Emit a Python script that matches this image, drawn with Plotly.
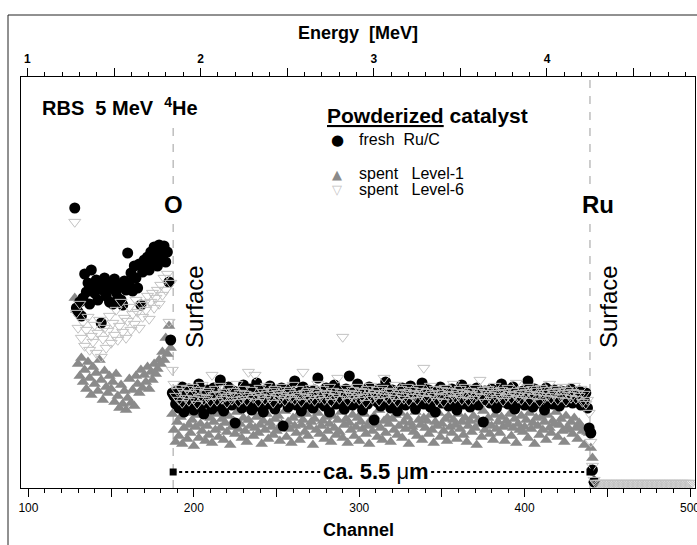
import plotly.graph_objects as go

# ---------------- figure geometry (layout only) ----------------
W, H = 697, 545
ML, MR, MT, MB = 21, 2, 77, 57
PW = W - ML - MR
PH = H - MT - MB


def pxx(x):
    return (x - ML) / PW


def pxy(y):
    return (H - MB - y) / PH


# ---------------- data ----------------
FIRST_CHANNEL = 128          # first channel of every series

# yield (arbitrary units) per channel, fresh Ru/C (channels 128 ... 442)
fresh_ruc = [
    280,
    180, 176, 186, 172, 190, 214, 196, 205, 184, 218, 200,
    195, 208, 188, 204, 165, 198, 210, 192, 206, 186,
    200, 184, 209, 196, 190, 203, 188, 183, 207, 198,
    235, 205, 215, 197, 222, 210, 200, 224, 183, 216,
    228, 220, 231, 218, 236, 225, 241, 232, 222, 243,
    238, 230, 242, 226, 236, 206, 148, 95,
    92, 84, 97, 80, 89, 101, 76, 94, 86, 99,
    83, 91, 78, 96, 88, 104, 81, 93, 74, 90,
    98, 85, 92, 79, 100, 87, 95, 82, 108, 89,
    77, 94, 86, 101, 90, 83, 97, 65, 92, 88,
    96, 80, 103, 89, 84, 93, 99, 78, 91, 86,
    105, 82, 95, 88, 76, 98, 90, 84, 102, 87,
    93, 79, 97, 85, 91, 100, 62, 94, 88, 81,
    99, 86, 92, 107, 83, 95, 89, 77, 101, 90,
    84, 96, 88, 93, 80, 98, 87, 110, 91, 85,
    94, 82, 100, 89, 76, 95, 88, 103, 84, 92,
    97, 86, 91, 79, 99, 87, 112, 93, 83, 96,
    89, 104, 85, 92, 78, 97, 90, 84, 101, 88,
    95, 68, 91, 86, 99, 82, 94, 89, 106, 87,
    93, 80, 98, 88, 92, 77, 96, 85, 100, 90,
    83, 95, 89, 102, 86, 93, 79, 97, 88, 91,
    105, 84, 92, 87, 98, 81, 94, 90, 76, 96,
    88, 101, 85, 93, 89, 97, 82, 91, 99, 86,
    94, 78, 96, 88, 103, 84, 92, 87, 98, 81,
    90, 95, 86, 100, 83, 93, 89, 66, 97, 88,
    92, 85, 99, 87, 94, 80, 96, 90, 104, 86,
    91, 98, 84, 93, 88, 101, 79, 95, 89, 92,
    86, 97, 83, 94, 107, 88, 92, 81, 99, 90,
    85, 96, 89, 93, 78, 100, 87, 94, 91, 84,
    98, 88, 95, 82, 97, 90, 96, 86, 93, 89,
    99, 85, 94, 91, 87, 97, 83, 92, 88, 95,
    80, 60, 55, 18, 6,
]

# spent Level-1 (channels 128 ... 442)
spent_level1 = [
    190,
    178, 124, 112, 130, 106, 118, 99, 126, 110, 93, 121,
    104, 115, 97, 128, 108, 88, 117, 101, 95, 112,
    99, 106, 86, 114, 92, 80, 103, 84, 97, 78,
    90, 109, 85, 98, 82, 112, 104, 95, 118, 100,
    113, 106, 121, 99, 116, 108, 124, 114, 119, 128,
    124, 136, 128, 150, 134, 162, 140, 74,
    58, 46, 66, 52, 71, 44, 60, 75, 49, 63,
    55, 68, 42, 61, 73, 50, 64, 57, 78, 47,
    62, 53, 70, 45, 66, 58, 74, 51, 60, 69,
    48, 65, 56, 72, 43, 61, 67, 54, 76, 59,
    64, 50, 70, 57, 46, 68, 62, 79, 52, 60,
    71, 55, 63, 44, 67, 58, 74, 49, 65, 61,
    53, 69, 57, 72, 47, 64, 60, 77, 51, 66,
    59, 45, 70, 62, 55, 73, 48, 63, 68, 56,
    74, 52, 61, 66, 43, 69, 58, 75, 54, 62,
    67, 49, 71, 57, 64, 46, 72, 60, 53, 68,
    56, 76, 50, 63, 69, 45, 65, 58, 73, 52,
    61, 70, 47, 66, 59, 74, 54, 62, 44, 68,
    57, 72, 63, 51, 78, 60, 48, 67, 55, 70,
    64, 46, 69, 58, 73, 53, 62, 75, 50, 66,
    59, 71, 44, 65, 61, 56, 76, 52, 68, 63,
    48, 70, 60, 67, 54, 73, 58, 45, 66, 62,
    75, 51, 64, 57, 69, 47, 72, 61, 55, 68,
    63, 49, 74, 59, 66, 53, 70, 46, 62, 67,
    56, 72, 60, 43, 68, 64, 51, 77, 58, 65,
    70, 54, 62, 48, 73, 59, 66, 55, 71, 61,
    47, 67, 63, 74, 52, 60, 69, 45, 64, 58,
    72, 56, 61, 68, 50, 75, 59, 65, 44, 70,
    62, 53, 71, 58, 66, 48, 73, 60, 55, 67,
    64, 76, 51, 63, 69, 57, 46, 72, 61, 58,
    66, 54, 70, 60, 49, 65, 62, 57, 43, 59,
    56, 55, 40, 30, 8,
]

# spent Level-6 (channels 128 ... 501)
spent_level6 = [
    266,
    175, 160, 184, 150, 166, 142, 158, 171, 138, 152, 146,
    163, 135, 155, 168, 131, 149, 160, 140, 157, 172,
    145, 165, 153, 178, 148, 162, 186, 156, 170, 150,
    167, 181, 158, 174, 164, 188, 176, 160, 183, 171,
    185, 178, 192, 169, 186, 195, 180, 190, 198, 184,
    203, 193, 210, 198, 214, 166, 205, 118,
    104, 92, 97, 88, 100, 85, 95, 90, 99, 87,
    94, 101, 89, 96, 84, 98, 91, 103, 88, 95,
    90, 97, 86, 113, 93, 99, 87, 94, 102, 89,
    96, 91, 85, 100, 93, 88, 97, 92, 104, 86,
    95, 89, 99, 94, 87, 116, 92, 98, 90, 113,
    93, 86, 100, 91, 96, 88, 102, 94, 90, 97,
    85, 99, 92, 95, 89, 101, 93, 87, 98, 91,
    96, 90, 103, 88, 94, 99, 92, 86, 116, 95,
    91, 97, 89, 100, 93, 87, 96, 104, 90, 94,
    99, 88, 95, 92, 101, 86, 97, 91, 94, 110,
    89, 96, 151, 93, 100, 87, 95, 92, 98, 90,
    94, 101, 88, 97, 91, 96, 85, 99, 93, 102,
    89, 95, 92, 98, 87, 94, 100, 110, 91, 96,
    88, 97, 93, 90, 103, 86, 95, 99, 92, 89,
    96, 101, 87, 94, 98, 91, 95, 88, 100, 93,
    97, 120, 90, 96, 89, 102, 94, 92, 99, 87,
    95, 91, 98, 86, 100, 93, 97, 89, 94, 104,
    90, 96, 92, 99, 88, 95, 101, 93, 87, 97,
    94, 89, 100, 92, 96, 108, 91, 98, 86, 95,
    99, 93, 88, 97, 102, 90, 95, 92, 98, 87,
    96, 91, 100, 94, 89, 97, 93, 105, 90, 95,
    88, 98, 92, 96, 101, 87, 94, 99, 91, 97,
    93, 86, 100, 95, 90, 98, 92, 104, 89, 96,
    94, 99, 88, 97, 91, 101, 95, 87, 98, 93,
    90, 96, 102, 89, 95, 92, 99, 86, 94, 84,
    88, 75, 46, 22, 8,
    5, 5, 5, 5, 5, 5, 5, 5, 5, 5,
    5, 5, 5, 5, 5, 5, 5, 5, 5, 5,
    5, 5, 5, 5, 5, 5, 5, 5, 5, 5,
    5, 5, 5, 5, 5, 5, 5, 5, 5, 5,
    5, 5, 5, 5, 5, 5, 5, 5, 5, 5,
    5, 5, 5, 5, 5, 5, 5, 5, 5,
]

ch_fresh = list(range(FIRST_CHANNEL, FIRST_CHANNEL + len(fresh_ruc)))
ch_level1 = list(range(FIRST_CHANNEL, FIRST_CHANNEL + len(spent_level1)))
ch_level6 = list(range(FIRST_CHANNEL, FIRST_CHANNEL + len(spent_level6)))

# surface edges (channels) and the depth bar
O_SURFACE = 187.5
RU_SURFACE = 439.5
DEPTH_BAR_Y = 16
depth_bar_x = [O_SURFACE, RU_SURFACE]
depth_bar_y = [DEPTH_BAR_Y, DEPTH_BAR_Y]

# axes
CH_RANGE = [95.5, 503]
Y_RANGE = [0, 411]
channel_ticks = [100, 150, 200, 250, 300, 350, 400, 450, 500]
channel_ticktext = ["100", " ", "200", " ", "300", " ", "400", " ", "500"]
# energy calibration: E [MeV] = 1 + (channel - 99.4) / 104.7
REF_CHANNEL, REF_ENERGY, CH_PER_MEV = 99.4, 1.0, 104.7
energy_ticks = [1, 1.5, 2, 2.5, 3, 3.5, 4, 4.5]
energy_ticktext = ["<b>1</b>", " ", "<b>2</b>", " ", "<b>3</b>", " ", "<b>4</b>", " "]


def ch2e(c):
    return REF_ENERGY + (c - REF_CHANNEL) / CH_PER_MEV


E_RANGE = [ch2e(CH_RANGE[0]), ch2e(CH_RANGE[1])]

FONT = "Liberation Sans, Arial, sans-serif"
C_L1 = "#8a8a8a"
C_L6 = "#c2c2c2"

fig = go.Figure()
fig.add_trace(go.Scatter(
    x=ch_level1, y=spent_level1, mode="markers", name="spent Level-1",
    marker=dict(symbol="triangle-up", size=11, color=C_L1, line=dict(width=0)),
    hoverinfo="x+y"))
fig.add_trace(go.Scatter(
    x=ch_fresh, y=fresh_ruc, mode="markers", name="fresh Ru/C",
    marker=dict(symbol="circle", size=11, color="black", line=dict(width=0)),
    hoverinfo="x+y"))
fig.add_trace(go.Scatter(
    x=ch_level6, y=spent_level6, mode="markers", name="spent Level-6",
    marker=dict(symbol="triangle-down-open", size=10.5, color=C_L6,
                line=dict(width=1, color=C_L6)),
    hoverinfo="x+y"))
fig.add_trace(go.Scatter(
    x=depth_bar_x, y=depth_bar_y, mode="lines+markers",
    line=dict(color="black", width=2, dash="dot"),
    marker=dict(symbol="square", size=7, color="black"),
    hoverinfo="skip"))
# carrier for the energy (top) axis
fig.add_trace(go.Scatter(x=E_RANGE, y=[None, None], xaxis="x2", mode="markers",
                         hoverinfo="skip"))

fig.update_layout(
    width=W, height=H,
    margin=dict(l=ML, r=MR, t=MT, b=MB, pad=0, autoexpand=False),
    paper_bgcolor="white", plot_bgcolor="white",
    showlegend=False,
    font=dict(family=FONT, color="black"),
    xaxis=dict(range=CH_RANGE, tickvals=channel_ticks, ticktext=channel_ticktext,
               ticks="outside", ticklen=8, tickwidth=1, tickcolor="black",
               tickfont=dict(size=12, family=FONT), ticklabeloverflow="allow",
               automargin=False,
               minor=dict(dtick=10, tick0=100, ticks="outside", ticklen=4,
                          tickwidth=1, tickcolor="black", showgrid=False),
               showline=True, linecolor="black", linewidth=1.3,
               showgrid=False, zeroline=False),
    xaxis2=dict(range=E_RANGE, overlaying="x", side="top",
                tickvals=energy_ticks, ticktext=energy_ticktext,
                ticks="outside", ticklen=8, tickwidth=1, tickcolor="black",
                tickfont=dict(size=12, family=FONT), ticklabeloverflow="allow",
                automargin=False,
                minor=dict(dtick=0.1, tick0=1, ticks="outside", ticklen=4,
                           tickwidth=1, tickcolor="black", showgrid=False),
                showline=True, linecolor="black", linewidth=1.3,
                showgrid=False, zeroline=False),
    yaxis=dict(range=Y_RANGE, showticklabels=False, ticks="", automargin=False,
               showline=True, mirror=True, linecolor="black", linewidth=1.3,
               showgrid=False, zeroline=False),
)

# surface lines
fig.add_shape(type="line", xref="x", yref="paper", x0=O_SURFACE, x1=O_SURFACE,
              y0=0, y1=pxy(125), layer="below",
              line=dict(color="#b4b4b4", width=1.3, dash="8px,8px"))
fig.add_shape(type="line", xref="x", yref="paper", x0=RU_SURFACE, x1=RU_SURFACE,
              y0=0, y1=1, layer="below",
              line=dict(color="#b4b4b4", width=1.3, dash="8px,8px"))

# outer frame (top and left border)
fig.add_shape(type="line", xref="paper", yref="paper", x0=pxx(8), x1=pxx(8),
              y0=pxy(H + 20), y1=pxy(15), line=dict(color="#222", width=1))
fig.add_shape(type="line", xref="paper", yref="paper", x0=pxx(8), x1=pxx(W + 20),
              y0=pxy(15), y1=pxy(15), line=dict(color="#222", width=1))

NB = "\u00a0"


def ann(text, x, y, size, xanchor="center", yanchor="middle", color="black",
        bg=None, angle=0, family=FONT):
    fig.add_annotation(text=text, x=pxx(x), y=pxy(y), xref="paper", yref="paper",
                       showarrow=False, xanchor=xanchor, yanchor=yanchor,
                       font=dict(size=size, color=color, family=family),
                       bgcolor=bg, textangle=angle, borderpad=0)


ann("<b>Energy" + NB * 2 + "[MeV]</b>", 358, 33, 18)
ann("<b>Channel</b>", 358, 530, 18)
ann("<b>RBS" + NB * 2 + "5 MeV" + NB * 2 + "<sup>4</sup>He</b>", 41, 106, 20,
    xanchor="left")
ann("<b><u>Powderized</u> catalyst</b>", 326, 115, 21, xanchor="left")

# legend
ann("●", 337, 140, 15, color="black", family="DejaVu Sans")
ann("fresh" + NB * 2 + "Ru/C", 358, 139, 16, xanchor="left")
ann("▲", 337, 174, 13, color=C_L1, family="DejaVu Sans")
ann("spent" + NB * 3 + "Level-1", 358, 173, 16, xanchor="left")
ann("▽", 337, 189, 13, color=C_L6, family="DejaVu Sans")
ann("spent" + NB * 3 + "Level-6", 358, 189, 16, xanchor="left")

ann("<b>O</b>", 173, 204, 24, bg="white")
ann("<b>Ru</b>", 598, 204, 24, bg="white")
ann("Surface", 194, 307, 24, angle=-90)
ann("Surface", 608, 307, 24, angle=-90)
ann("<b>ca. 5.5 </b>μ<b>m</b>", 376, 471, 22, bg="white")

fig.write_html("out.html")
